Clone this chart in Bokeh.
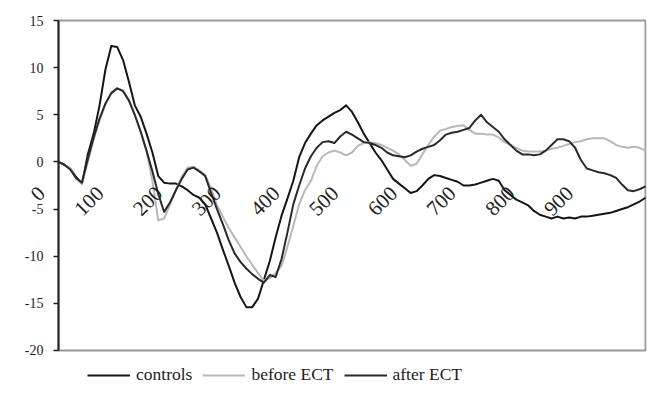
import math
from bokeh.plotting import figure
from bokeh.layouts import column
from bokeh.models import (Range1d, FixedTicker, Legend, LegendItem, ColumnDataSource,
                          LabelSet, LinearAxis, BoxAnnotation)
from bokeh.embed import file_html
from bokeh.resources import INLINE

# ---- data ----
x_ms = list(range(0, 1001, 10))

controls = [
    0, -0.3, -0.7, -1.6, -2.3, 0.8, 3.0, 6.0, 9.8, 12.3,
    12.2, 10.8, 8.5, 6.0, 4.8, 3.0, 1.0, -1.5, -2.2, -2.3,
    -2.3, -2.6, -3.0, -3.5, -3.8, -4.5, -6.0, -7.5, -9.3, -11.0,
    -12.8, -14.3, -15.4, -15.4, -14.5, -12.5, -10.5, -8.0, -5.7, -3.9,
    -2.0, 0.5, 2.0, 3.0, 3.9, 4.4, 4.8, 5.2, 5.5, 6.0,
    5.3, 4.2, 3.0, 2.0, 1.0, 0.2, -0.8, -1.8, -2.3, -2.8,
    -3.3, -3.1, -2.5, -1.8, -1.4, -1.5, -1.7, -1.9, -2.1, -2.5,
    -2.5, -2.4, -2.2, -2.0, -1.8, -2.0, -3.0, -3.5, -4.0, -4.3,
    -4.6, -5.2, -5.6, -5.8, -6.0, -5.8, -6.0, -5.9, -6.0, -5.8,
    -5.8, -5.7, -5.6, -5.5, -5.4, -5.2, -5.0, -4.8, -4.5, -4.2,
    -3.8,
]

before_ect = [
    0, -0.3, -0.7, -1.8, -2.3, 0.0, 2.4, 4.4, 6.1, 7.3,
    7.8, 7.6, 6.6, 5.0, 3.3, 1.1, -2.0, -6.2, -6.0, -4.5,
    -3.0, -1.6, -0.6, -0.5, -0.9, -1.4, -2.8, -4.6, -5.8, -7.0,
    -8.0, -9.0, -10.0, -10.9, -11.8, -12.6, -12.3, -11.8, -11.0, -9.0,
    -6.8, -4.5, -3.0, -2.0, -0.4, 0.6, 1.0, 1.2, 1.0, 0.7,
    1.0, 1.7, 2.0, 2.1, 2.0, 1.8, 1.5, 1.2, 0.8, 0.2,
    -0.4, -0.2, 0.8, 1.8, 2.7, 3.3, 3.5, 3.7, 3.8, 3.9,
    3.4, 3.0, 3.0, 2.9, 2.9, 2.6, 2.1, 1.8, 1.5, 1.2,
    1.1, 1.1, 1.1, 1.2, 1.4, 1.5, 1.7, 1.9, 2.1, 2.2,
    2.4, 2.5, 2.5, 2.5, 2.2, 1.8, 1.6, 1.5, 1.6, 1.5,
    1.2,
]

after_ect = [
    0, -0.3, -0.8, -1.7, -2.2, 0.3, 2.6, 4.6, 6.2, 7.3,
    7.8, 7.5, 6.5, 5.0, 3.2, 1.2, -1.0, -3.4, -5.3, -4.3,
    -3.0, -1.8, -0.8, -0.6, -1.0, -1.5, -3.3, -5.0, -6.6, -8.3,
    -9.7, -10.6, -11.3, -11.9, -12.4, -12.8, -12.0, -12.2, -10.3, -7.5,
    -4.5, -2.5, -0.7, 0.6, 1.5, 2.1, 2.2, 2.0, 2.7, 3.2,
    2.9, 2.5, 2.1, 2.0, 1.8, 1.5, 1.0, 0.7, 0.6, 0.5,
    0.7, 1.1, 1.4, 1.6, 1.8, 2.3, 2.9, 3.1, 3.2, 3.4,
    3.6, 4.4, 5.0, 4.2, 3.7, 3.2, 2.4, 1.8, 1.2, 0.8,
    0.8, 0.7, 0.8, 1.2, 1.8, 2.4, 2.4, 2.2, 1.5, 0.2,
    -0.7, -0.9, -1.1, -1.2, -1.4, -1.7, -2.4, -3.0, -3.1, -2.9,
    -2.6,
]

x_tick_values = [0, 100, 200, 300, 400, 500, 600, 700, 800, 900]
x_tick_labels = ["0", "100", "200", "300", "400", "500", "600", "700", "800", "900"]
y_ticks = [-20, -15, -10, -5, 0, 5, 10, 15]
y_tick_labels = ["-20", "-15", "-10", "-5", "0", "5", "10", "15"]

series_names = ["controls", "before ECT", "after ECT"]
series_colors = ["#151515", "#b8b8b8", "#2a2a2a"]

X_MIN, X_MAX = 0, 1000
Y_MIN, Y_MAX = -20, 15

# ---- main figure ----
p = figure(width=648, height=360, output_backend="svg", toolbar_location=None,
           x_range=Range1d(-64.7, 1001.7), y_range=Range1d(-20.955, 16.273),
           x_axis_location=None, y_axis_location=None, tools="")
p.min_border_left = 20
p.min_border_right = 2
p.min_border_top = 8
p.min_border_bottom = 1
p.grid.visible = False
p.outline_line_color = None
p.background_fill_color = "white"
p.border_fill_color = "white"

# plot-area frame (top, right, bottom borders)
frame_box = BoxAnnotation(left=X_MIN, right=X_MAX, bottom=Y_MIN, top=Y_MAX,
                          fill_alpha=0, line_color="#9a9a9a", line_alpha=1.0,
                          line_width=2, level="underlay")
p.add_layout(frame_box)

# y axis at x = 0
ya = LinearAxis(fixed_location=X_MIN, ticker=FixedTicker(ticks=y_ticks),
                major_label_overrides={t: "" for t in y_ticks})
ya.axis_line_color = "#222222"
ya.axis_line_width = 2
ya.major_tick_line_color = "#222222"
ya.major_tick_line_width = 1.5
ya.major_tick_out = 5
ya.major_tick_in = 0
ya.minor_tick_line_color = None
ya.major_label_standoff = 0
ya.bounds = (Y_MIN, Y_MAX)
p.add_layout(ya, "left")

ysrc = ColumnDataSource(dict(x=[X_MIN] * len(y_ticks), y=y_ticks, t=y_tick_labels))
p.add_layout(LabelSet(x="x", y="y", text="t", source=ysrc, x_offset=-15,
                      text_align="right", text_baseline="middle",
                      text_font="Liberation Sans", text_font_size="14px", text_color="#222222"))

renderers = []
for ys, c in zip([controls, before_ect, after_ect], series_colors):
    renderers.append(p.line(x_ms, ys, line_color=c, line_width=2, line_join="round"))

# category-style tick labels along the zero line
src = ColumnDataSource(dict(x=x_tick_values, y=[0] * len(x_tick_values), t=x_tick_labels))
p.add_layout(LabelSet(x="x", y="y", text="t", source=src, angle=math.pi / 4,
                      text_align="right", text_baseline="top",
                      x_offset=-22, y_offset=-23,
                      text_font="Liberation Serif", text_font_size="21px", text_color="#222222"))

# ---- legend strip ----
lg = figure(width=648, height=37, output_backend="svg", toolbar_location=None,
            x_range=Range1d(0, 1), y_range=Range1d(0, 1),
            x_axis_location=None, y_axis_location=None, tools="")
lg.min_border = 0
lg.outline_line_color = None
lg.grid.visible = False
lg_renderers = [lg.line(x_ms, ys, line_color=c, line_width=2, visible=False)
                for ys, c in zip([controls, before_ect, after_ect], series_colors)]
legend = Legend(items=[LegendItem(label=n, renderers=[r]) for n, r in zip(series_names, lg_renderers)],
                orientation="horizontal", location=(67, 12),
                glyph_width=43, label_standoff=6, spacing=10, padding=0, margin=0,
                border_line_color=None, background_fill_alpha=0,
                label_text_font="Liberation Serif", label_text_font_size="17.5px",
                label_text_color="#222222")
lg.add_layout(legend, "center")

layout = column(p, lg, spacing=0)
open("out.html", "w").write(file_html(layout, INLINE))
